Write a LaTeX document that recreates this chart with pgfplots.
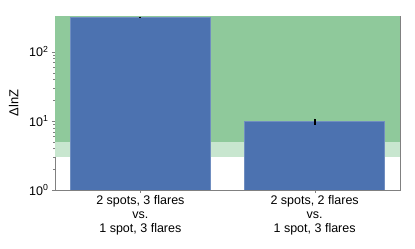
\documentclass[border=0pt]{standalone}
\usepackage{pgfplots}
\pgfplotsset{compat=1.18}
\usepackage{fontspec}
\setmainfont{Liberation Sans}
\definecolor{barblue}{RGB}{76,114,176}
\definecolor{dgreen}{RGB}{143,201,155}
\definecolor{lgreen}{RGB}{200,230,207}
\definecolor{spine}{RGB}{128,128,128}
\begin{document}
\begin{tikzpicture}
\useasboundingbox (0,0) rectangle (415pt,249pt);
\begin{axis}[
  at={(55pt,59pt)}, anchor=south west,
  scale only axis, width=345pt, height=174pt,
  ymode=log, ymin=1, ymax=330,
  xmin=-0.49, xmax=1.49,
  xtick={0,1},
  xticklabels={{2 spots, 3 flares\\vs.\\1 spot, 3 flares},{2 spots, 2 flares\\vs.\\1 spot, 3 flares}},
  xticklabel style={align=center, font=\fontsize{12.5}{14}\selectfont, yshift=1pt},
  yticklabel style={font=\fontsize{12.5}{14}\selectfont},
  ytick={1,10,100},
  yticklabels={10\textsuperscript{0},10\textsuperscript{1},10\textsuperscript{2}},
  ylabel={ΔlnZ},
  ylabel style={font=\fontsize{13}{15}\selectfont, yshift=4pt},
  axis line style={spine, line width=0.8pt},
  tick style={spine},
  major tick length=3pt, minor tick length=1.8pt,
  xtick pos=bottom, ytick pos=left,
  tick align=outside,
  clip=true,
]
\fill[dgreen] (axis cs:-0.49,5) rectangle (axis cs:1.49,330);
\fill[lgreen] (axis cs:-0.49,3) rectangle (axis cs:1.49,5);
\addplot[ybar, bar width=140pt, fill=barblue, draw=barblue!80!white, bar shift=0pt,
  error bars/.cd, y dir=both, y explicit, error bar style={black, line width=2pt}, error mark=none]
  coordinates {(0,318) +- (0,4) (1,9.8) +- (0,1.0)};
\end{axis}
\end{tikzpicture}
\end{document}
